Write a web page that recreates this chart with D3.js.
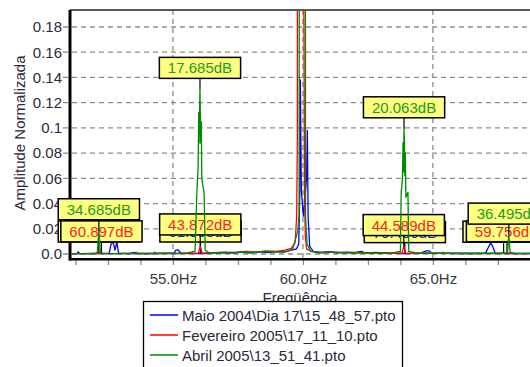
<!DOCTYPE html>
<html>
<head>
<meta charset="utf-8">
<script src="https://cdn.jsdelivr.net/npm/d3@7"></script>
<style>
  body { margin: 0; background: #fff; }
  svg { display: block; }
  text { font-family: "Liberation Sans", Arial, sans-serif; }
</style>
</head>
<body>
<svg id="chart" width="530" height="367"></svg>
<script>
// ---- series ----
const seriesNames = [
  "Maio 2004\\Dia 17\\15_48_57.pto",
  "Fevereiro 2005\\17_11_10.pto",
  "Abril 2005\\13_51_41.pto"
];
const seriesColors = ["#0000ff", "#ff0000", "#008a00"];
const labelColors = ["#2020d0", "#ff2020", "#239a23"];

// ---- axis ticks ----
const yTickValues = [0, 0.02, 0.04, 0.06, 0.08, 0.1, 0.12, 0.14, 0.16, 0.18];
const yTickLabels = ["0.0", "0.02", "0.04", "0.06", "0.08", "0.1", "0.12", "0.14", "0.16", "0.18"];
const xTickValues = [55, 60, 65];
const xTickLabels = ["55.0Hz", "60.0Hz", "65.0Hz"];
const xMinorTicks = [51.25, 52.5, 53.75, 55, 56.25, 57.5, 58.75, 60, 61.25, 62.5, 63.75, 65, 66.25, 67.5, 68.75];

// ---- spectra: [frequency Hz, normalized amplitude] ----
const blueSpectrum = [
  [51.04, 0.0003], [51.30, 0.0003], [51.36, 0.0016], [51.42, 0.0003], [51.90, 0.0004], [52.05, 0.0004],
  [52.25, 0.0004], [52.55, 0.0006], [52.62, 0.0080], [52.70, 0.0095], [52.77, 0.0030], [52.84, 0.0095],
  [52.91, 0.0006], [53.30, 0.0005], [53.55, 0.0012], [53.65, 0.0004], [54.20, 0.0004], [54.60, 0.0006],
  [55.05, 0.0006], [55.10, 0.0028], [55.20, 0.0032], [55.30, 0.0008], [55.60, 0.0005], [55.95, 0.0004],
  [56.15, 0.0004], [56.50, 0.0008], [57.00, 0.0012], [57.30, 0.0008], [57.60, 0.0015], [58.00, 0.0010],
  [58.30, 0.0018], [58.70, 0.0012], [59.00, 0.0020], [59.30, 0.0016], [59.55, 0.0030], [59.75, 0.0040],
  [59.84, 0.0080], [59.88, 0.0500], [59.90, 0.1380], [59.94, 0.0500], [60.02, 0.0300], [60.14, 0.0600],
  [60.17, 0.0980], [60.20, 0.0300], [60.26, 0.0060], [60.40, 0.0020], [60.70, 0.0012], [61.00, 0.0018],
  [61.30, 0.0010], [61.70, 0.0015], [62.00, 0.0010], [62.25, 0.0020], [62.40, 0.0008], [62.80, 0.0012],
  [63.20, 0.0008], [63.60, 0.0006], [63.85, 0.0004], [64.00, 0.0004], [64.50, 0.0005], [64.75, 0.0025],
  [64.85, 0.0025], [64.95, 0.0006], [65.50, 0.0005], [66.00, 0.0004], [66.50, 0.0004], [67.02, 0.0005],
  [67.15, 0.0060], [67.22, 0.0088], [67.30, 0.0060], [67.40, 0.0005], [67.62, 0.0004], [67.82, 0.0004],
  [68.50, 0.0004], [69.20, 0.0004]
];
const redSpectrum = [
  [51.04, 0.0002], [51.70, 0.0003], [52.18, 0.0003], [52.32, 0.0003], [53.00, 0.0003], [53.55, 0.0003],
  [53.60, 0.0012], [53.65, 0.0003], [54.25, 0.0003], [54.30, 0.0015], [54.35, 0.0003], [55.00, 0.0004],
  [55.50, 0.0004], [55.98, 0.0005], [56.12, 0.0005], [56.50, 0.0010], [57.00, 0.0015], [57.40, 0.0010],
  [57.80, 0.0020], [58.20, 0.0015], [58.60, 0.0025], [59.00, 0.0020], [59.30, 0.0030], [59.55, 0.0045],
  [59.70, 0.0090], [59.76, 0.0300], [59.785, 0.0900], [59.80, 1.0000], [60.04, 0.1800], [60.06, 0.0500],
  [60.09, 0.0150], [60.14, 0.0040], [60.30, 0.0025], [60.50, 0.0015], [60.80, 0.0010], [61.20, 0.0015],
  [61.60, 0.0010], [62.00, 0.0012], [62.50, 0.0008], [63.00, 0.0008], [63.50, 0.0006], [63.80, 0.0005],
  [63.96, 0.0005], [64.50, 0.0005], [65.35, 0.0005], [65.40, 0.0013], [65.45, 0.0005], [66.50, 0.0004],
  [67.50, 0.0004], [67.78, 0.0004], [67.92, 0.0004], [68.00, 0.0004], [68.02, 0.0012], [68.06, 0.0004],
  [69.20, 0.0003]
];
const greenSpectrum = [
  [51.04, 0.0003], [51.80, 0.0003], [52.00, 0.0004], [52.09, 0.0010], [52.21, 0.0010], [52.30, 0.0003],
  [53.50, 0.0004], [55.00, 0.0005], [55.50, 0.0006], [55.85, 0.0020], [55.92, 0.0480], [55.97, 0.0700],
  [55.99, 0.1120], [56.01, 0.0880], [56.02, 0.1100], [56.06, 0.1000], [56.07, 0.0880], [56.09, 0.1050],
  [56.11, 0.0600], [56.20, 0.0480], [56.24, 0.0030], [56.40, 0.0010], [57.00, 0.0010],
  [57.50, 0.0015], [58.00, 0.0010], [58.50, 0.0020], [59.00, 0.0015], [59.40, 0.0020], [59.60, 0.0040],
  [59.72, 0.0120], [59.80, 0.0180], [59.855, 0.0300], [59.87, 1.0000], [60.08, 1.0000], [60.10, 0.0300],
  [60.16, 0.0080], [60.30, 0.0020], [60.60, 0.0010], [61.00, 0.0015], [61.50, 0.0010], [62.00, 0.0010],
  [62.50, 0.0008], [63.00, 0.0008], [63.50, 0.0010], [63.75, 0.0020], [63.78, 0.0490], [63.83, 0.0600],
  [63.85, 0.0880], [63.87, 0.0650], [63.88, 0.0860], [63.91, 0.0860], [63.92, 0.0620], [63.94, 0.0800],
  [63.96, 0.0450], [64.04, 0.0490], [64.07, 0.0020], [64.30, 0.0010], [65.00, 0.0008],
  [66.00, 0.0006], [67.00, 0.0006], [67.80, 0.0006], [67.87, 0.0010], [67.97, 0.0010], [68.20, 0.0005],
  [69.20, 0.0005]
];

// ---- peak markers: frequency and level in dB below the 60 Hz line ----
const blueMarkers = [[52.15, 62.254], [56.06, 61.998], [63.92, 70.480], [67.72, 64.108]];
const redMarkers = [[52.25, 60.897], [56.05, 43.872], [63.88, 44.589], [67.85, 59.756]];
const greenMarkers = [[52.15, 34.685], [56.04, 17.685], [63.89, 20.063], [67.92, 36.495]];

// ---- layout ----
const svg = d3.select("#chart");
const plot = { left: 70, right: 540, top: 10, bottom: 258 };
const x = d3.scaleLinear().domain([51.04, 69.12]).range([plot.left, plot.right]);
const y = d3.scaleLinear().domain([0, 0.18]).range([254, 27]);

const dbToAmp = db => Math.pow(10, -db / 20);

svg.append("defs").append("clipPath").attr("id", "plotClip")
  .append("rect")
  .attr("x", plot.left + 1.5).attr("y", plot.top)
  .attr("width", plot.right - plot.left).attr("height", plot.bottom - plot.top - 1);

// grid
const grid = svg.append("g").attr("stroke", "#8c8c8c").attr("stroke-width", 1.3)
  .attr("stroke-dasharray", "5,4").attr("fill", "none");
yTickValues.forEach(v => {
  grid.append("line").attr("x1", plot.left - 7).attr("x2", plot.right)
    .attr("y1", y(v)).attr("y2", y(v));
});
xTickValues.forEach(v => {
  grid.append("line").attr("x1", x(v)).attr("x2", x(v))
    .attr("y1", plot.top).attr("y2", plot.bottom);
});

// axes
const yAxis = d3.axisLeft(y).tickValues(yTickValues)
  .tickFormat((d, i) => yTickLabels[i]).tickSize(0).tickPadding(8);
const gy = svg.append("g").attr("transform", `translate(${plot.left},0)`).call(yAxis);
gy.select(".domain").remove();
gy.selectAll("text").attr("font-size", 15).attr("fill", "#2a2a3a")
  .attr("font-family", "Liberation Sans, Arial, sans-serif");

const xAxis = d3.axisBottom(x).tickValues(xMinorTicks)
  .tickFormat(d => {
    const i = xTickValues.indexOf(d);
    return i >= 0 ? xTickLabels[i] : "";
  }).tickSize(6).tickPadding(8);
const gx = svg.append("g").attr("transform", `translate(0,${plot.bottom + 1})`).call(xAxis);
gx.select(".domain").remove();
gx.selectAll("line").attr("stroke", "#8c8c8c").attr("stroke-width", 1.3);
gx.selectAll("text").attr("font-size", 15).attr("fill", "#3a3a3a")
  .attr("font-family", "Liberation Sans, Arial, sans-serif");

// frame lines
svg.append("line").attr("x1", plot.left).attr("x2", plot.right)
  .attr("y1", plot.top).attr("y2", plot.top).attr("stroke", "#222").attr("stroke-width", 1.5);
svg.append("line").attr("x1", plot.left).attr("x2", plot.right)
  .attr("y1", plot.bottom + 1.3).attr("y2", plot.bottom + 1.3).attr("stroke", "#000").attr("stroke-width", 2.6);
svg.append("line").attr("x1", plot.left).attr("x2", plot.left)
  .attr("y1", plot.top).attr("y2", plot.bottom + 2.6).attr("stroke", "#000").attr("stroke-width", 3);

// axis titles
svg.append("text").attr("transform", `translate(25,133) rotate(-90)`)
  .attr("text-anchor", "middle").attr("font-size", 15).attr("fill", "#2a2a3a")
  .text("Amplitude Normalizada");
svg.append("text").attr("x", 300).attr("y", 302.5)
  .attr("text-anchor", "middle").attr("font-size", 15).attr("fill", "#2a2a3a")
  .text("Freqüência");

// traces and markers, one layer per series
const spectra = [blueSpectrum, redSpectrum, greenSpectrum];
const markerSets = [blueMarkers, redMarkers, greenMarkers];
const line = d3.line().x(d => x(d[0])).y(d => y(d[1]));

spectra.forEach((spec, si) => {
  const peaks = markerSets[si].map(m => [m[0], dbToAmp(m[1])]);
  const pts = spec.concat(peaks).sort((a, b) => a[0] - b[0]);
  svg.append("path").datum(pts)
    .attr("clip-path", "url(#plotClip)")
    .attr("fill", "none").attr("stroke", seriesColors[si]).attr("stroke-width", 1.3)
    .attr("stroke-linejoin", "round")
    .attr("d", line);

  const g = svg.append("g");
  markerSets[si].forEach(m => {
    const px = x(m[0]);
    const py = y(dbToAmp(m[1]));
    const boxBottom = py - 11;
    g.append("line").attr("x1", px).attr("x2", px).attr("y1", boxBottom).attr("y2", py)
      .attr("stroke", "#000").attr("stroke-width", 1.2);
    const t = g.append("text").attr("x", px).attr("y", boxBottom - 5)
      .attr("text-anchor", "middle").attr("font-size", 15)
      .attr("fill", labelColors[si]).text(m[1].toFixed(3) + "dB");
    const w = t.node().getComputedTextLength() + 17;
    g.insert("rect", () => t.node())
      .attr("x", px - w / 2).attr("y", boxBottom - 21)
      .attr("width", w).attr("height", 21)
      .attr("fill", "#ffff80").attr("stroke", "#000").attr("stroke-width", 1.5);
  });
});

// legend
const lg = svg.append("g");
lg.append("rect").attr("x", 143.5).attr("y", 301.5).attr("width", 259).attr("height", 70)
  .attr("fill", "#fff").attr("stroke", "#000").attr("stroke-width", 1.3);
seriesNames.forEach((name, i) => {
  const ly = 315 + i * 20;
  lg.append("line").attr("x1", 150).attr("x2", 178).attr("y1", ly).attr("y2", ly)
    .attr("stroke", seriesColors[i]).attr("stroke-width", 1.5);
  lg.append("text").attr("x", 182).attr("y", ly + 5.5)
    .attr("font-size", 15).attr("fill", "#2a2a3a").text(name);
});
</script>
</body>
</html>
